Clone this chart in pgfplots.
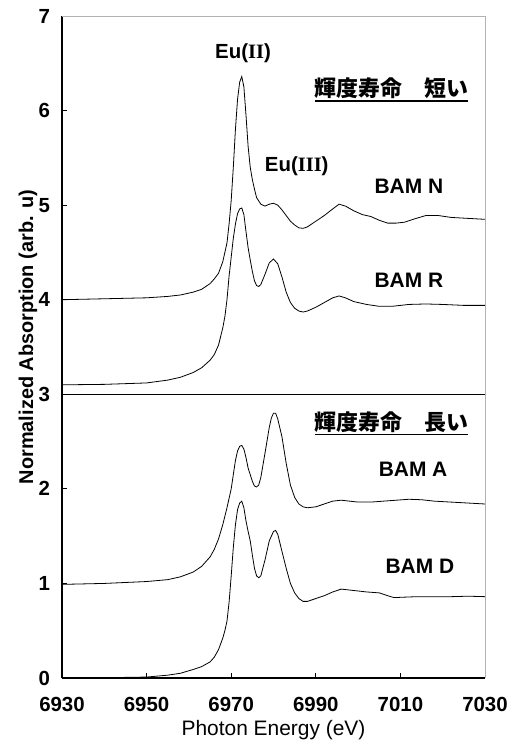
\documentclass[border=0pt]{standalone}
\usepackage{fontspec}
\setmainfont{Liberation Sans}
\newfontfamily\jp{Noto Sans CJK JP}
\newfontfamily\serifr{Liberation Serif}
\usepackage{pgfplots}
\pgfplotsset{compat=1.18}
\newcommand\ulbox[1]{\setbox0\hbox{#1}\leavevmode\rlap{\rule[-5bp]{\wd0}{1.5bp}}\box0}
\begin{document}
\begin{tikzpicture}
\path[use as bounding box] (-62bp,-68bp) rectangle (447bp,678bp);
\begin{axis}[
 at={(0,0)}, anchor=south west,
 scale only axis, width=423bp, height=662bp,
 xmin=6930, xmax=7030, ymin=0, ymax=7,
 xtick={6930,6950,6970,6990,7010,7030}, ytick={0,1,2,3,4,5,6,7},
 axis lines*=left, axis line style={-, line width=1.2bp},
 tick align=inside, major tick length=5bp, tick style={black, line width=0.8bp},
 /pgf/number format/assume math mode=true,
 /pgf/number format/set thousands separator={},
 ticklabel style={font=\fontsize{20.5}{24}\selectfont\bfseries},
 xticklabel style={yshift=-16bp},
 yticklabel style={xshift=-8.5bp},
 xlabel={Photon Energy (eV)},
 ylabel={Normalized Absorption (arb. u)},
 xlabel style={font=\fontsize{21}{25}\selectfont, at={(axis description cs:0.5,-0.0785)}, anchor=center},
 ylabel style={font=\fontsize{20}{25}\selectfont\bfseries, at={(axis description cs:-0.0805,0.515)}, anchor=center},
 clip=false,
]
% BAM N
\addplot[black, line width=0.8bp] coordinates {
(6930,4.00) (6935,4.005) (6940,4.01) (6945,4.015) (6950,4.02) (6955,4.035) (6958,4.05)
(6961,4.08) (6963,4.11) (6965,4.17) (6966,4.22) (6967,4.28) (6968,4.40) (6969,4.60)
(6969.5,4.80) (6970,5.05) (6970.5,5.40) (6971,5.80) (6971.5,6.12) (6972,6.30) (6972.5,6.36)
(6973,6.25) (6973.5,5.95) (6974,5.62) (6974.5,5.40) (6975,5.27) (6975.5,5.17) (6976,5.08)
(6977,5.01) (6978,4.99) (6979,5.01) (6980,5.02) (6981,5.00) (6982,4.95) (6983,4.89)
(6984,4.83) (6985,4.79) (6986,4.76) (6987,4.755) (6988,4.77) (6990,4.83) (6992,4.89)
(6994,4.96) (6995.5,5.01) (6997,4.99) (6999,4.94) (7001,4.90) (7003,4.88) (7005,4.84)
(7007,4.81) (7009,4.81) (7011,4.82) (7013,4.85) (7016,4.89) (7019,4.89) (7022,4.87)
(7026,4.86) (7030,4.85)};
% BAM R
\addplot[black, line width=0.8bp] coordinates {
(6930,3.10) (6940,3.105) (6950,3.12) (6955,3.15) (6958,3.18) (6961,3.23) (6963,3.28)
(6965,3.36) (6966,3.42) (6967,3.52) (6968,3.70) (6968.5,3.82) (6969,4.00) (6969.5,4.25)
(6970,4.45) (6970.5,4.65) (6971,4.80) (6971.5,4.91) (6972,4.96) (6972.5,4.97) (6973,4.90)
(6973.5,4.72) (6974,4.55) (6974.5,4.42) (6975,4.30) (6975.5,4.20) (6976,4.15) (6976.5,4.14)
(6977,4.16) (6978,4.27) (6979,4.39) (6980,4.43) (6981,4.38) (6982,4.24) (6983,4.08)
(6984,3.97) (6985,3.91) (6986,3.88) (6987,3.87) (6988,3.88) (6990,3.92) (6992,3.97)
(6994,4.02) (6995.5,4.04) (6997,4.02) (6999,3.98) (7002,3.95) (7005,3.93) (7008,3.93)
(7012,3.95) (7016,3.955) (7020,3.95) (7025,3.94) (7030,3.94)};
% BAM A
\addplot[black, line width=0.8bp] coordinates {
(6930,0.99) (6940,1.00) (6950,1.02) (6955,1.04) (6958,1.07) (6961,1.12) (6963,1.18)
(6965,1.28) (6966,1.36) (6967,1.47) (6968,1.62) (6969,1.80) (6970,2.00) (6970.5,2.15)
(6971,2.30) (6971.5,2.40) (6972,2.45) (6972.5,2.46) (6973,2.42) (6973.5,2.33) (6974,2.22)
(6975,2.08) (6975.5,2.03) (6976,2.02) (6976.5,2.04) (6977,2.12) (6978,2.38) (6979,2.65)
(6979.5,2.75) (6980,2.80) (6980.5,2.80) (6981,2.74) (6982,2.55) (6983,2.27) (6984,2.04)
(6985,1.91) (6986,1.84) (6987,1.81) (6988,1.80) (6990,1.81) (6992,1.84) (6994,1.87)
(6996,1.88) (6998,1.87) (7000,1.86) (7003,1.86) (7006,1.87) (7009,1.88) (7012,1.89)
(7015,1.885) (7018,1.87) (7022,1.86) (7026,1.85) (7030,1.84)};
% BAM D
\addplot[black, line width=0.8bp] coordinates {
(6930,0.00) (6940,0.003) (6950,0.01) (6955,0.03) (6958,0.05) (6961,0.09) (6963,0.12)
(6965,0.17) (6966,0.22) (6967,0.30) (6968,0.42) (6968.5,0.50) (6969,0.60) (6969.5,0.80)
(6970,1.08) (6970.5,1.38) (6971,1.62) (6971.5,1.78) (6972,1.85) (6972.5,1.87) (6973,1.80)
(6973.5,1.66) (6974,1.55) (6974.5,1.45) (6975,1.30) (6975.5,1.16) (6976,1.08) (6976.5,1.06)
(6977,1.08) (6978,1.25) (6979,1.45) (6980,1.55) (6980.5,1.56) (6981,1.52) (6982,1.34)
(6983,1.16) (6984,1.00) (6985,0.90) (6986,0.84) (6987,0.81) (6988,0.81) (6990,0.84)
(6992,0.87) (6994,0.91) (6996,0.94) (6998,0.93) (7000,0.92) (7002,0.91) (7005,0.90)
(7007,0.87) (7008.5,0.85) (7011,0.855) (7014,0.86) (7018,0.86) (7022,0.86) (7026,0.865)
(7030,0.86)};
\draw[gray!60, line width=1bp] (rel axis cs:0,1) -- (rel axis cs:1,1) -- (rel axis cs:1,0);
\draw[black, line width=0.9bp] (axis cs:6930,3) -- (axis cs:7030,3);
\node[font=\fontsize{20.5}{24}\selectfont\bfseries] at (axis cs:6972.8,6.61) {Eu({\serifr\bfseries II})};
\node[font=\fontsize{20.5}{24}\selectfont\bfseries] at (axis cs:6985.5,5.41) {Eu({\serifr\bfseries III})};
\node[font=\fontsize{22}{26}\selectfont\jp\bfseries, anchor=base, inner sep=0pt] at (axis cs:7007.9,6.148) {\ulbox{輝度寿命　短い}};
\node[font=\fontsize{22}{26}\selectfont\jp\bfseries, anchor=base, inner sep=0pt] at (axis cs:7007.9,2.62) {\ulbox{輝度寿命　長い}};
\node[font=\fontsize{21}{25}\selectfont\bfseries] at (axis cs:7012,5.20) {BAM N};
\node[font=\fontsize{21}{25}\selectfont\bfseries] at (axis cs:7012,4.21) {BAM R};
\node[font=\fontsize{21}{25}\selectfont\bfseries] at (axis cs:7013,2.21) {BAM A};
\node[font=\fontsize{21}{25}\selectfont\bfseries] at (axis cs:7014.6,1.18) {BAM D};
\end{axis}
\end{tikzpicture}
\end{document}
